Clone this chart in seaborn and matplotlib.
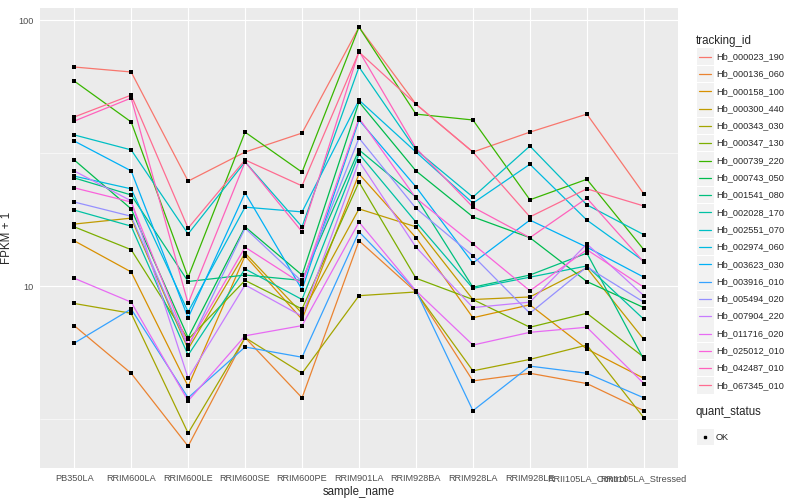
import numpy as np
import pandas as pd
import matplotlib
matplotlib.use("Agg")
import matplotlib.pyplot as plt
import seaborn as sns
from matplotlib.lines import Line2D
from matplotlib.patches import Rectangle
from matplotlib.ticker import FixedLocator, FixedFormatter, NullFormatter

samples = ["PB350LA", "RRIM600LA", "RRIM600LE", "RRIM600SE", "RRIM600PE",
           "RRIM901LA", "RRIM928BA", "RRIM928LA", "RRIM928LE",
           "RRII105LA_Control", "RRII105LA_Stressed"]

tracking_ids = ["Hb_000023_190", "Hb_000136_060", "Hb_000158_100", "Hb_000300_440",
                "Hb_000343_030", "Hb_000347_130", "Hb_000739_220", "Hb_000743_050",
                "Hb_001541_080", "Hb_002028_170", "Hb_002551_070", "Hb_002974_060",
                "Hb_003623_030", "Hb_003916_010", "Hb_005494_020", "Hb_007904_220",
                "Hb_011716_020", "Hb_025012_010", "Hb_042487_010", "Hb_067345_010"]

# FPKM + 1 per gene, one value per sample
hb_000023_190 = [66.6, 63.8, 24.8, 31.9, 37.6, 94.1, 48.3, 31.9, 37.9, 44.3, 22.2]
hb_000136_060 = [7.1, 4.7, 2.5, 6.4, 3.8, 14.8, 9.5, 4.4, 4.7, 4.3, 3.4]
hb_000158_100 = [14.8, 11.3, 4.2, 13.0, 7.5, 26.4, 15.2, 7.6, 8.5, 5.8, 4.5]
hb_000300_440 = [17.1, 18.0, 5.8, 13.3, 7.9, 19.5, 16.7, 8.9, 9.1, 11.7, 6.3]
hb_000343_030 = [8.6, 7.9, 2.8, 6.4, 4.7, 9.2, 9.5, 4.8, 5.3, 6.0, 3.2]
hb_000347_130 = [16.7, 13.7, 6.3, 10.5, 8.2, 24.6, 10.7, 8.9, 7.0, 7.9, 5.4]
hb_000739_220 = [59.0, 41.4, 10.8, 37.9, 26.8, 94.1, 44.3, 42.1, 21.1, 25.2, 13.7]
hb_000743_050 = [29.8, 19.5, 6.4, 16.7, 11.0, 49.2, 27.1, 18.2, 15.2, 10.4, 8.3]
hb_001541_080 = [25.5, 22.0, 10.4, 11.0, 10.5, 32.5, 21.6, 9.9, 11.0, 13.3, 5.3]
hb_002028_170 = [19.3, 16.8, 5.5, 11.6, 8.9, 31.4, 17.4, 9.8, 10.8, 11.9, 7.5]
hb_002551_070 = [37.0, 32.5, 15.7, 29.3, 16.7, 66.6, 32.5, 21.6, 33.6, 20.2, 15.6]
hb_002974_060 = [25.9, 23.2, 8.0, 19.8, 19.0, 50.0, 31.9, 20.5, 28.7, 17.7, 12.4]
hb_003623_030 = [35.1, 27.1, 7.6, 22.4, 9.7, 42.1, 23.6, 12.2, 17.7, 14.0, 10.8]
hb_003916_010 = [6.1, 8.2, 3.8, 5.9, 5.4, 16.0, 9.6, 3.4, 5.0, 4.7, 3.8]
hb_005494_020 = [20.7, 18.3, 5.9, 16.5, 10.4, 36.0, 19.6, 13.0, 7.9, 11.8, 8.7]
hb_007904_220 = [27.1, 20.9, 4.5, 10.1, 7.7, 29.5, 14.0, 8.3, 8.7, 14.4, 9.2]
hb_011716_020 = [10.7, 8.7, 3.7, 6.5, 7.1, 17.4, 9.6, 6.0, 6.7, 7.0, 4.3]
hb_025012_010 = [23.4, 20.7, 6.0, 14.0, 10.2, 42.8, 21.4, 14.4, 9.6, 13.7, 9.9]
hb_042487_010 = [41.7, 50.9, 8.6, 29.3, 16.0, 76.5, 33.0, 19.8, 15.2, 21.4, 12.3]
hb_067345_010 = [43.2, 52.2, 16.5, 29.8, 23.8, 75.8, 48.3, 31.9, 18.2, 23.2, 20.0]

series = [hb_000023_190, hb_000136_060, hb_000158_100, hb_000300_440, hb_000343_030,
          hb_000347_130, hb_000739_220, hb_000743_050, hb_001541_080, hb_002028_170,
          hb_002551_070, hb_002974_060, hb_003623_030, hb_003916_010, hb_005494_020,
          hb_007904_220, hb_011716_020, hb_025012_010, hb_042487_010, hb_067345_010]

# ggplot2 default hue palette for 20 levels
hue_colors = ["#F8766D", "#EA8331", "#D89000", "#C09B00", "#A3A500", "#7CAE00",
              "#39B600", "#00BB4E", "#00BF7D", "#00C1A3", "#00BFC4", "#00BAE0",
              "#00B0F6", "#35A2FF", "#9590FF", "#C77CFF", "#E76BF3", "#FA62DB",
              "#FF62BC", "#FF6C91"]

rows = []
for tid, vals in zip(tracking_ids, series):
    for s, v in zip(samples, vals):
        rows.append({"tracking_id": tid, "sample_name": s, "fpkm": v, "quant_status": "OK"})
df = pd.DataFrame(rows)

sns.set_theme(style="darkgrid")
plt.rcParams["font.family"] = ["Liberation Sans", "DejaVu Sans"]

fig = plt.figure(figsize=(8, 5), dpi=100)
ax = fig.add_axes([40 / 800, 32 / 500, 638 / 800, 460 / 500])
ax.set_facecolor("#EBEBEB")

sns.lineplot(data=df, x="sample_name", y="fpkm", hue="tracking_id",
             palette=dict(zip(tracking_ids, hue_colors)), sort=False,
             linewidth=0.9, legend=False, ax=ax)
sns.scatterplot(data=df, x="sample_name", y="fpkm", color="black", marker="s",
                s=5, linewidth=0, legend=False, ax=ax, zorder=5)

ax.set_yscale("log")
ax.set_ylim(2.07, 111)
ax.set_xlim(-0.6, len(samples) - 0.4)
ax.yaxis.set_major_locator(FixedLocator([10, 100]))
ax.yaxis.set_major_formatter(FixedFormatter(["10", "100"]))
ax.yaxis.set_minor_locator(FixedLocator([10 ** 0.5, 10 ** 1.5]))
ax.yaxis.set_minor_formatter(NullFormatter())

ax.grid(which="major", color="white", linewidth=0.85)
ax.grid(which="minor", axis="y", color="white", linewidth=0.4)
for sp in ax.spines.values():
    sp.set_visible(False)

ax.tick_params(which="major", length=2.5, width=0.6, color="#333333",
               labelsize=6.6, labelcolor="#4D4D4D", pad=2)
ax.tick_params(which="minor", length=0)
ax.set_xlabel("sample_name", fontsize=8.3, labelpad=2)
ax.set_ylabel("FPKM + 1", fontsize=8.3, labelpad=4)

# legend drawn ggplot style on the right
def fx(px):
    return px / 800

def fy(py):
    return 1 - py / 500

fig.text(fx(696), fy(41), "tracking_id", fontsize=8.3, va="center", ha="left")
for i, (tid, col) in enumerate(zip(tracking_ids, hue_colors)):
    yc = 56.7 + i * 17.3
    fig.add_artist(Rectangle((fx(697), fy(yc + 8.3)), 16.6 / 800, 16.6 / 500,
                             transform=fig.transFigure, facecolor="#F2F2F2",
                             edgecolor="none"))
    fig.add_artist(Line2D([fx(699), fx(711)], [fy(yc), fy(yc)],
                          transform=fig.transFigure, color=col, linewidth=0.9))
    fig.text(fx(716), fy(yc), tid, fontsize=6.6, va="center", ha="left")

fig.text(fx(696), fy(412), "quant_status", fontsize=8.3, va="center", ha="left")
fig.add_artist(Rectangle((fx(697), fy(437 + 8.3)), 16.6 / 800, 16.6 / 500,
                         transform=fig.transFigure, facecolor="#F2F2F2",
                         edgecolor="none"))
fig.add_artist(Line2D([fx(705)], [fy(437)], transform=fig.transFigure,
                      marker="s", markersize=2.0, color="black", linestyle="none"))
fig.text(fx(716), fy(437), "OK", fontsize=6.6, va="center", ha="left")

fig.savefig("out.png", dpi=100)
